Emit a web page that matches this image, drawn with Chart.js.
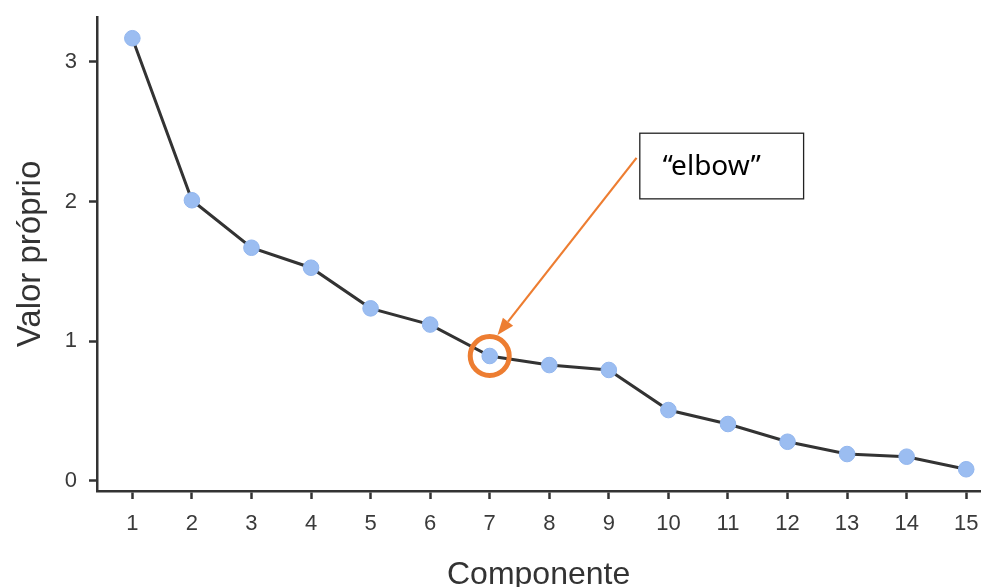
<!DOCTYPE html>
<html>
<head>
<meta charset="utf-8">
<script src="https://cdn.jsdelivr.net/npm/chart.js@4/dist/chart.umd.min.js"></script>
<style>
  html,body{margin:0;padding:0;background:#fff;}
  #scree{display:block;}
</style>
</head>
<body>
<canvas id="scree" width="989" height="587"></canvas>
<script>
// scree plot data
const components = [1,2,3,4,5,6,7,8,9,10,11,12,13,14,15];
const eigenvalues = [3.17,2.01,1.67,1.527,1.236,1.12,0.895,0.83,0.795,0.508,0.408,0.281,0.193,0.174,0.084];
const yTicks = [0,1,2,3];
const xTitle = 'Componente';
const yTitle = 'Valor próprio';
const elbowLabel = '\u201celbow\u201d';
const elbowComponent = 7;

const AXIS = '#333333';
const ORANGE = '#ED7D31';
const FONT = '"Liberation Sans", Arial, sans-serif';

// annotation placed in data units so it follows the scales
const note = {
  box: {x0:9.52, x1:12.27, y0:2.49, y1:2.02},
  text: {x:9.905, y:2.19},
  arrowFrom: {x:9.465, y:2.313},
  arrowTo: {x:7.131, y:1.045}
};

const elbowPlugin = {
  id:'elbow',
  afterDatasetsDraw(chart){
    const {ctx, scales:{x, y}} = chart;
    const px = v => x.getPixelForValue(v);
    const py = v => y.getPixelForValue(v);
    ctx.save();

    // circle round the elbow point
    const i = components.indexOf(elbowComponent);
    ctx.strokeStyle = ORANGE;
    ctx.lineWidth = 5;
    ctx.beginPath();
    ctx.arc(px(components[i]), py(eigenvalues[i]), 19.5, 0, Math.PI*2);
    ctx.stroke();

    // arrow
    const x0 = px(note.arrowFrom.x), y0 = py(note.arrowFrom.y);
    const x1 = px(note.arrowTo.x), y1 = py(note.arrowTo.y);
    const ang = Math.atan2(y1-y0, x1-x0);
    const headLen = 17, headW = 6.5;
    const bx = x1 - headLen*Math.cos(ang), by = y1 - headLen*Math.sin(ang);
    ctx.lineWidth = 2.2;
    ctx.beginPath();
    ctx.moveTo(x0,y0);
    ctx.lineTo(bx,by);
    ctx.stroke();
    ctx.fillStyle = ORANGE;
    ctx.beginPath();
    ctx.moveTo(x1,y1);
    ctx.lineTo(bx + headW*Math.sin(ang), by - headW*Math.cos(ang));
    ctx.lineTo(bx - headW*Math.sin(ang), by + headW*Math.cos(ang));
    ctx.closePath();
    ctx.fill();

    // label box
    const l = px(note.box.x0), r = px(note.box.x1);
    const t = py(note.box.y0), b = py(note.box.y1);
    ctx.fillStyle = '#fff';
    ctx.fillRect(l,t,r-l,b-t);
    ctx.strokeStyle = '#222';
    ctx.lineWidth = 1.3;
    ctx.strokeRect(l,t,r-l,b-t);
    ctx.fillStyle = '#000';
    ctx.font = '28px "Noto Sans", "Open Sans", sans-serif';
    ctx.textBaseline = 'alphabetic';
    ctx.textAlign = 'left';
    ctx.fillText(elbowLabel, px(note.text.x), py(note.text.y));
    ctx.restore();
  }
};

new Chart(document.getElementById('scree'), {
  type:'line',
  data:{
    datasets:[{
      data: components.map((c,i)=>({x:c, y:eigenvalues[i]})),
      borderColor:'#333333',
      borderWidth:3,
      pointRadius:7.8,
      pointBackgroundColor:'#9bbdf1',
      pointBorderColor:'#92b6ee',
      pointBorderWidth:1,
      tension:0
    }]
  },
  options:{
    responsive:false,
    animation:false,
    devicePixelRatio:1,
    layout:{ padding:{top:17, right:4, left:0, bottom:0} },
    plugins:{ legend:{display:false}, tooltip:{enabled:false} },
    scales:{
      x:{
        type:'linear',
        min:0.4065, max:15.235,
        afterBuildTicks: s => { s.ticks = components.map(v=>({value:v})); },
        afterFit: s => { s.height = 96; s.paddingLeft = 0; s.paddingRight = 0; },
        grid:{ drawOnChartArea:false, drawTicks:true, tickLength:8, tickWidth:2.5, tickColor:AXIS },
        border:{ display:true, color:AXIS, width:2.5 },
        ticks:{ color:'#3a3a3a', padding:12, maxRotation:0, autoSkip:false,
                font:{ family:FONT, size:22 } },
        title:{ display:true, text:xTitle, color:AXIS, padding:{top:0, bottom:-4},
                font:{ family:FONT, size:32, lineHeight:1 } }
      },
      y:{
        type:'linear',
        min:-0.0716, max:3.322,
        afterBuildTicks: s => { s.ticks = yTicks.map(v=>({value:v})); },
        afterFit: s => { s.width = 97; s.paddingTop = 0; s.paddingBottom = 0; },
        grid:{ drawOnChartArea:false, drawTicks:true, tickLength:8, tickWidth:2.5, tickColor:AXIS },
        border:{ display:true, color:AXIS, width:2.5 },
        ticks:{ color:'#3a3a3a', padding:12,
                font:{ family:FONT, size:22 } },
        title:{ display:true, text:yTitle, color:AXIS, padding:{top:14, bottom:0},
                font:{ family:FONT, size:33, lineHeight:1 } }
      }
    }
  },
  plugins:[elbowPlugin]
});
</script>
</body>
</html>
